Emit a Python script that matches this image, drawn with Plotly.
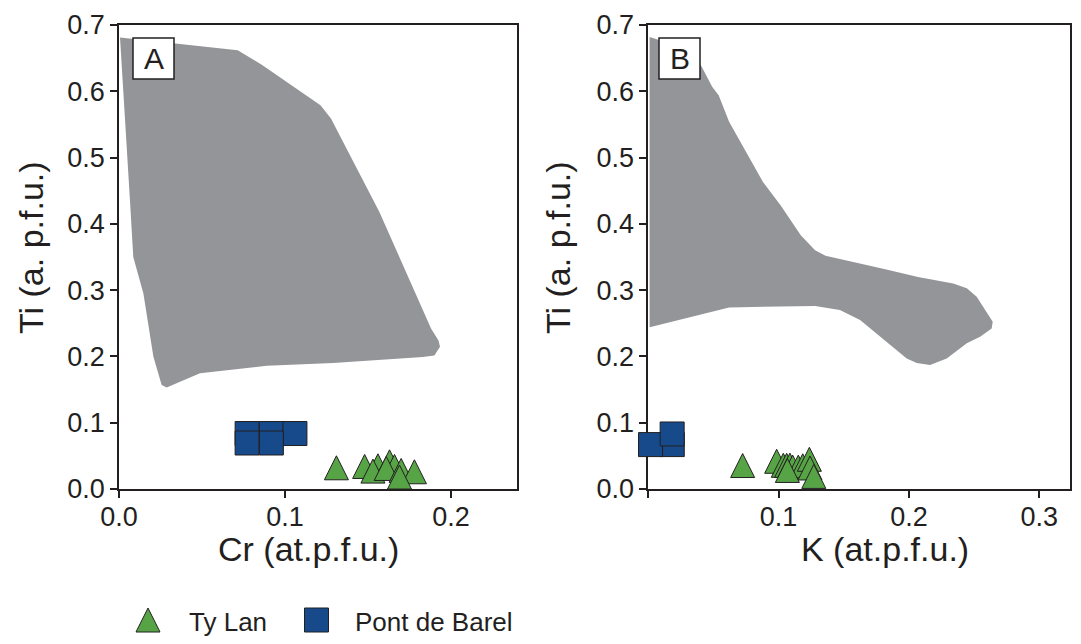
import plotly.graph_objects as go

# ---------------- data ----------------
# Panel A: grey reference field, Cr vs Ti (a.p.f.u.)
field_a_cr = [0.0006, 0.0715, 0.086, 0.1214, 0.1277, 0.1423, 0.1569, 0.188, 0.1925, 0.1934,
              0.190, 0.183, 0.1592, 0.129, 0.089, 0.0488, 0.0287, 0.0257, 0.0207, 0.0147,
              0.0086, 0.0066]
field_a_ti = [0.681, 0.662, 0.640, 0.579, 0.559, 0.488, 0.418, 0.242, 0.224, 0.2147,
              0.2015, 0.199, 0.1946, 0.190, 0.186, 0.1745, 0.153, 0.157, 0.200, 0.295,
              0.350, 0.436]

# Panel B: grey reference field, K vs Ti (a.p.f.u.)
field_b_k = [0.001, 0.012, 0.030, 0.041, 0.049, 0.054, 0.062, 0.075, 0.088, 0.1015, 0.117,
             0.128, 0.136, 0.181, 0.207, 0.234, 0.2444, 0.252, 0.2597, 0.2643, 0.2635,
             0.2546, 0.2444, 0.229, 0.2162, 0.206, 0.1983, 0.1778, 0.1625, 0.147, 0.128,
             0.062, 0.001]
field_b_ti = [0.682, 0.675, 0.660, 0.637, 0.607, 0.594, 0.554, 0.509, 0.463, 0.428, 0.383,
              0.360, 0.352, 0.332, 0.320, 0.310, 0.3027, 0.290, 0.2674, 0.2524, 0.2423,
              0.2298, 0.2197, 0.197, 0.187, 0.190, 0.197, 0.2297, 0.255, 0.270, 0.276,
              0.274, 0.244]

# Ty Lan (triangles)
tylan_cr = [0.131, 0.148, 0.156, 0.163, 0.166, 0.153, 0.161, 0.170, 0.178, 0.169]
tylan_ti_a = [0.032, 0.034, 0.035, 0.041, 0.034, 0.027, 0.031, 0.028, 0.026, 0.018]
tylan_k = [0.0724, 0.0985, 0.1036, 0.1062, 0.1087, 0.1108, 0.1151, 0.1185, 0.1236, 0.1067,
           0.1241, 0.127]
tylan_ti_b = [0.0354, 0.0418, 0.0357, 0.0357, 0.036, 0.033, 0.033, 0.035, 0.0448, 0.028,
              0.0317, 0.019]

# Pont de Barel (squares)
barel_cr = [0.0772, 0.0918, 0.106, 0.0772, 0.0918]
barel_ti_a = [0.0837, 0.0837, 0.0837, 0.0694, 0.0694]
barel_k = [0.0184, 0.0017, 0.0183]
barel_ti_b = [0.067, 0.067, 0.083]

ti_ticks = [0.0, 0.1, 0.2, 0.3, 0.4, 0.5, 0.6, 0.7]
ti_labels = ["0.0", "0.1", "0.2", "0.3", "0.4", "0.5", "0.6", "0.7"]
cr_ticks = [0.0, 0.1, 0.2]
cr_labels = ["0.0", "0.1", "0.2"]
k_ticks = [0.0, 0.1, 0.2, 0.3]
k_labels = ["", "0.1", "0.2", "0.3"]

series_names = ["Ty Lan", "Pont de Barel"]

# ---------------- style ----------------
W, H = 1081, 644
INK = "#231f20"
GREY = "#939598"
GREEN = "#57a447"
BLUE = "#174a8b"
FONT = "Liberation Sans, Arial, Helvetica, sans-serif"

tri_marker = dict(symbol="arrow-down", angle=180, standoff=12, size=24, color=GREEN,
                  line=dict(color=INK, width=1))
sq_marker = dict(symbol="square", size=24, color=BLUE, line=dict(color=INK, width=1))

fig = go.Figure()

# Panel A
fig.add_trace(go.Scatter(x=field_a_cr, y=field_a_ti, mode="lines", fill="toself",
                         fillcolor=GREY, line=dict(width=0, color=GREY),
                         xaxis="x", yaxis="y", showlegend=False, hoverinfo="skip"))
fig.add_trace(go.Scatter(x=barel_cr, y=barel_ti_a, mode="markers", marker=sq_marker,
                         xaxis="x", yaxis="y", showlegend=False, cliponaxis=False))
fig.add_trace(go.Scatter(x=tylan_cr, y=tylan_ti_a, mode="markers", marker=tri_marker,
                         xaxis="x", yaxis="y", showlegend=False, cliponaxis=False))

# Panel B
fig.add_trace(go.Scatter(x=field_b_k, y=field_b_ti, mode="lines", fill="toself",
                         fillcolor=GREY, line=dict(width=0, color=GREY),
                         xaxis="x2", yaxis="y2", showlegend=False, hoverinfo="skip"))
fig.add_trace(go.Scatter(x=barel_k, y=barel_ti_b, mode="markers", marker=sq_marker,
                         xaxis="x2", yaxis="y2", showlegend=False, cliponaxis=False))
fig.add_trace(go.Scatter(x=tylan_k, y=tylan_ti_b, mode="markers", marker=tri_marker,
                         xaxis="x2", yaxis="y2", showlegend=False, cliponaxis=False))

# Legend (drawn on a pixel-based overlay axis)
leg_x = [148, 316.5]
leg_y = [620, 620]
fig.add_trace(go.Scatter(x=[leg_x[0]], y=[leg_y[0]], mode="markers", marker=tri_marker,
                         xaxis="x3", yaxis="y3", showlegend=False, cliponaxis=False,
                         name=series_names[0]))
fig.add_trace(go.Scatter(x=[leg_x[1]], y=[leg_y[1]], mode="markers", marker=sq_marker,
                         xaxis="x3", yaxis="y3", showlegend=False, cliponaxis=False,
                         name=series_names[1]))

axis_common = dict(showline=True, linecolor=INK, linewidth=1.8, mirror=True,
                   ticks="outside", ticklen=7, tickwidth=1.6, tickcolor=INK,
                   showgrid=False, zeroline=False, automargin=False,
                   tickfont=dict(family=FONT, size=27, color=INK))

y_dom = [155 / H, 619 / H]

fig.update_layout(
    width=W, height=H,
    margin=dict(l=0, r=0, t=0, b=0, pad=0),
    paper_bgcolor="white", plot_bgcolor="rgba(0,0,0,0)",
    showlegend=False,
    xaxis=dict(axis_common, domain=[119 / W, 517 / W], range=[0, 0.2398],
               tickvals=cr_ticks, ticktext=cr_labels, anchor="y", ticklabelstandoff=-4),
    yaxis=dict(axis_common, domain=y_dom, range=[0, 0.7],
               tickvals=ti_ticks, ticktext=ti_labels, anchor="x", ticklabelstandoff=0),
    xaxis2=dict(axis_common, domain=[648.3 / W, 1070 / W], range=[0, 0.3236],
                tickvals=k_ticks, ticktext=k_labels, anchor="y2", layer="below traces",
                ticklabelstandoff=-4),
    yaxis2=dict(axis_common, domain=y_dom, range=[0, 0.7],
                tickvals=ti_ticks, ticktext=ti_labels, anchor="x2", layer="below traces",
                ticklabelstandoff=0),
    xaxis3=dict(domain=[0, 1], range=[0, W], visible=False, fixedrange=True,
                automargin=False),
    yaxis3=dict(domain=[0, 1], range=[H, 0], visible=False, fixedrange=True,
                anchor="x3", automargin=False),
)

# Panel letter boxes
for (x0, x1) in [(133, 174), (659, 700)]:
    fig.add_shape(type="rect", xref="paper", yref="paper",
                  x0=x0 / W, x1=x1 / W, y0=1 - 79 / H, y1=1 - 38 / H,
                  line=dict(color=INK, width=1.5), fillcolor="white", layer="above")

ann = []
for txt, cx in [("A", 153.5), ("B", 679.5)]:
    ann.append(dict(text=txt, x=cx / W, y=1 - 59 / H, xref="paper", yref="paper",
                    xanchor="center", yanchor="middle", showarrow=False,
                    font=dict(family=FONT, size=30, color=INK)))

# Axis titles
ann.append(dict(text="Cr (at.p.f.u.)", x=308 / W, y=1 - 549 / H, xref="paper", yref="paper",
                xanchor="center", yanchor="middle", showarrow=False,
                font=dict(family=FONT, size=34, color=INK)))
ann.append(dict(text="K (at.p.f.u.)", x=885 / W, y=1 - 549 / H, xref="paper", yref="paper",
                xanchor="center", yanchor="middle", showarrow=False,
                font=dict(family=FONT, size=34, color=INK)))
for cx in [31, 558]:
    ann.append(dict(text="Ti (a. p.f.u.)", x=cx / W, y=1 - 248 / H, xref="paper",
                    yref="paper", xanchor="center", yanchor="middle", showarrow=False,
                    textangle=-90, font=dict(family=FONT, size=34, color=INK)))

# Legend labels
for name, lx in zip(series_names, [187, 353]):
    ann.append(dict(text=name, x=lx / W, y=1 - 622 / H, xref="paper", yref="paper",
                    xanchor="left", yanchor="middle", showarrow=False,
                    font=dict(family=FONT, size=26, color=INK)))

fig.update_layout(annotations=ann)

fig.write_html("out.html", config={"displayModeBar": False},
               post_script="document.body.style.margin='0px';")
